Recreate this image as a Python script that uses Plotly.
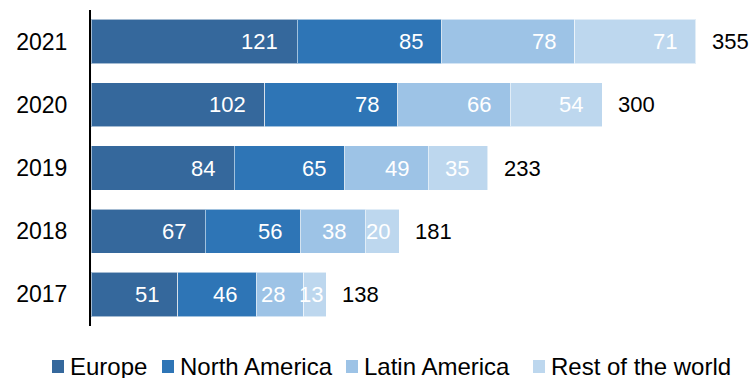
import plotly.graph_objects as go

# Stacked horizontal bars by region, one bar per year
years = ["2017", "2018", "2019", "2020", "2021"]
europe = [51, 67, 84, 102, 121]
north_america = [46, 56, 65, 78, 85]
latin_america = [28, 38, 49, 66, 78]
rest_of_world = [13, 20, 35, 54, 71]
totals = [138, 181, 233, 300, 355]

series = [
    ("Europe", europe, "#35689C"),
    ("North America", north_america, "#2E75B6"),
    ("Latin America", latin_america, "#9DC3E6"),
    ("Rest of the world", rest_of_world, "#BDD7EE"),
]

FONT = "Liberation Sans, Arial, sans-serif"
FS = 22
W, H = 755, 378
ML, MR, MT, MB = 91, 0, 10, 52
PW, PH = W - ML - MR, H - MT - MB
X_MAX = 389.8
px_per_unit = PW / X_MAX


def px_to_paper_x(px):
    return (px - ML) / PW


def px_to_paper_y(py):
    return (H - MB - py) / PH


fig = go.Figure()
for name, vals, color in series:
    fig.add_trace(go.Bar(
        y=years, x=vals, name=name, orientation="h",
        marker=dict(color=color, line=dict(color="rgba(255,255,255,0.55)", width=1)),
        hoverinfo="x+name",
    ))

annotations = []
shapes = []
# value labels placed near the inner end of each segment
# (annotation y uses the category index, since the year names look numeric)
for i, yr in enumerate(years):
    start = 0
    for name, vals, color in series:
        v = vals[i]
        end = start + v
        seg_px = v * px_per_unit
        text_px = 0.556 * FS * len(str(v))
        pad = min(17, max(1, seg_px - text_px - 2))
        annotations.append(dict(
            x=end, y=i, xref="x", yref="y", text=str(v),
            showarrow=False, xanchor="right", xshift=-pad,
            font=dict(family=FONT, size=FS, color="white"),
        ))
        start = end
    # total at the end of the bar
    annotations.append(dict(
        x=totals[i], y=i, xref="x", yref="y", text=str(totals[i]),
        showarrow=False, xanchor="left", xshift=14,
        font=dict(family=FONT, size=FS, color="black"),
    ))

# legend row along the bottom: colour square followed by the series name
legend_x = [52, 162, 346, 533]
for (name, vals, color), lx in zip(series, legend_x):
    shapes.append(dict(
        type="rect", xref="paper", yref="paper",
        x0=px_to_paper_x(lx), x1=px_to_paper_x(lx + 12),
        y0=px_to_paper_y(373), y1=px_to_paper_y(360),
        fillcolor=color, line=dict(width=0),
    ))
    annotations.append(dict(
        x=px_to_paper_x(lx + 16), y=px_to_paper_y(366),
        xref="paper", yref="paper", text=name, showarrow=False,
        xanchor="left", yanchor="middle",
        font=dict(family=FONT, size=24, color="black"),
    ))

fig.update_layout(
    barmode="stack",
    bargap=0.3,
    width=W, height=H,
    margin=dict(l=ML, r=MR, t=MT, b=MB),
    paper_bgcolor="white", plot_bgcolor="white",
    font=dict(family=FONT, size=FS, color="black"),
    showlegend=False,
    annotations=annotations,
    shapes=shapes,
    xaxis=dict(range=[0, X_MAX], visible=False, fixedrange=True),
    yaxis=dict(
        type="category",
        categoryorder="array", categoryarray=years,
        range=[-0.5, len(years) - 0.5],
        showline=True, linecolor="black", linewidth=2,
        showgrid=False, zeroline=False, ticks="",
        ticklabelstandoff=17,
        tickfont=dict(family=FONT, size=23, color="black"),
    ),
)

fig.write_html("out.html")
